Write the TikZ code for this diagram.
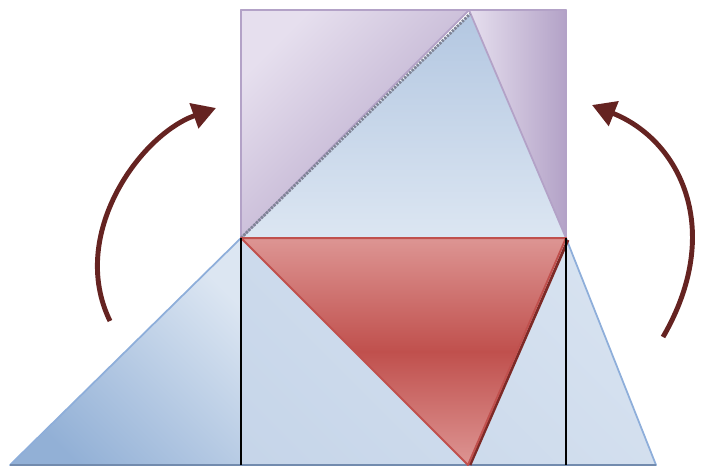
\documentclass[tikz,border=0pt]{standalone}
\usepackage{tikz}
\usetikzlibrary{arrows.meta, calc}
\definecolor{sketchBlueDark}{HTML}{92B0D6}
\definecolor{sketchBlueMid}{HTML}{B3C7E1}
\definecolor{sketchBlueSoft}{HTML}{C3D3E8}
\definecolor{sketchBlueLight}{HTML}{DCE6F2}
\definecolor{sketchBlueEdge}{HTML}{8EAEDA}
\definecolor{sketchPurpleLight}{HTML}{E6DFEE}
\definecolor{sketchPurpleDark}{HTML}{B3A2C7}
\definecolor{sketchRedLight}{HTML}{DD9593}
\definecolor{sketchRed}{HTML}{C0504D}
\definecolor{sketchRedShadow}{HTML}{7D2A27}
\definecolor{sketchArrow}{HTML}{652321}
\definecolor{sketchHinge}{HTML}{7F8496}

\begin{document}
\begin{tikzpicture}[
  x=0.03cm, y=-0.03cm,
  >={Triangle[length=20pt, width=22pt]},
  blueface/.style={draw=sketchBlueEdge, line width=1.5pt, line join=round},
  purpleface/.style={draw=sketchPurpleDark, line width=1.5pt, line join=round},
  redface/.style={draw=sketchRed, line width=1.7pt, line join=round,
                  top color=sketchRedLight, bottom color=sketchRedLight, middle color=sketchRed},
  cutline/.style={draw=black, line width=1.3pt},
  swing/.style={->, draw=sketchArrow, line width=4.2pt}
]
\useasboundingbox (0,0) rectangle (706,466);

\coordinate (baseL) at (10,465);
\coordinate (apex) at (470,14);
\coordinate (baseR) at (656,465);
\coordinate (sqNW) at (241,10);
\coordinate (sqNE) at (566,10);
\coordinate (sqSW) at (241,238);
\coordinate (sqSE) at (566,238);
\coordinate (fold) at (469,10);
\coordinate (redTip) at (468,465);
\coordinate (footL) at (241,465);
\coordinate (footR) at (566,465);

% big triangle
\path[top color=sketchBlueLight, bottom color=sketchBlueSoft, shading angle=-45]
  (baseL) -- (apex) -- (sqSE) -- (baseR) -- cycle;
\path[top color=sketchBlueLight, bottom color=sketchBlueDark, shading angle=-45]
  (baseL) -- (sqSW) -- (footL) -- cycle;
\path[top color=sketchBlueMid, bottom color=sketchBlueLight]
  (sqSW) -- (apex) -- (sqSE) -- cycle;
\draw[blueface] (sqSW) -- (baseL) -- (baseR) -- (sqSE);
\draw[draw=sketchBlueEdge!80!black, line width=1.5pt] (baseL) -- (baseR);

% folded square
\path[purpleface, top color=sketchPurpleLight, bottom color=sketchPurpleDark, shading angle=45]
  (sqNW) -- (fold) -- (sqSW) -- cycle;
\path[purpleface, left color=sketchPurpleLight, right color=sketchPurpleDark]
  (fold) -- (sqNE) -- (sqSE) -- cycle;
\draw[purpleface] (sqNW) rectangle (sqSE);
\draw[draw=sketchHinge, line width=2.4pt, dash pattern=on 2pt off 1pt] (sqSW) -- (apex);

% red triangle
\draw[draw=sketchRedShadow, line width=2.4pt] ($(sqSE)+(2,2)$) -- ($(redTip)+(2,0)$);
\path[redface] (sqSW) -- (sqSE) -- (redTip) -- cycle;

\draw[cutline] (sqSW) -- (footL);
\draw[cutline] (sqSE) -- (footR);

% rotation arrows
\coordinate (swingL0) at (110,321);
\coordinate (swingL1) at (216,108);
\coordinate (swingR0) at (663,337);
\coordinate (swingR1) at (592,105);
\draw[swing] (swingL0) .. controls (68,235) and (140,135) .. (swingL1);
\draw[swing] (swingR0) .. controls (725,230) and (680,140) .. (swingR1);
\end{tikzpicture}
\end{document}
